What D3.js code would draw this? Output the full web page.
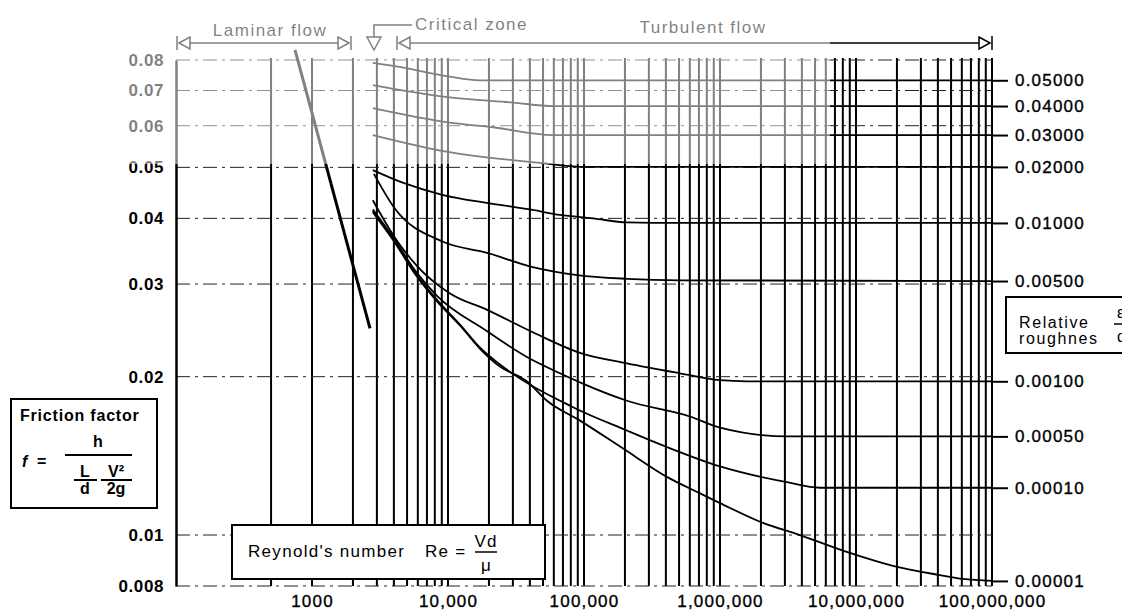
<!DOCTYPE html>
<html>
<head>
<meta charset="utf-8">
<script src="https://cdn.jsdelivr.net/npm/d3@7"></script>
<style>
body { margin: 0; background: #fff; }
svg { display: block; font-family: "Liberation Sans", Arial, sans-serif; }
</style>
</head>
<body>
<div id="chart"></div>
<script>
const w = 1131, h = 611

// data: [Reynolds number, friction factor]
const fTicks = [0.08, 0.07, 0.06, 0.05, 0.04, 0.03, 0.02, 0.01, 0.008]
const fTickLabels = ["0.08", "0.07", "0.06", "0.05", "0.04", "0.03", "0.02", "0.01", "0.008"]
const reTicks = [1e3, 1e4, 1e5, 1e6, 1e7, 1e8]
const reTickLabels = ["1000", "10,000", "100,000", "1,000,000", "10,000,000", "100,000,000"]
const roughness = ["0.05000", "0.04000", "0.03000", "0.02000", "0.01000", "0.00500", "0.00100", "0.00050", "0.00010", "0.00001"]

const laminar = [[750, 0.0836], [2670, 0.0247]]

const curve05000 = [[2800, 0.0790], [4400, 0.0776], [10000, 0.0745], [17200, 0.0732], [1e8, 0.0732]]
const curve04000 = [[2800, 0.0717], [10000, 0.0680], [30000, 0.0664], [60000, 0.0654], [1e8, 0.0654]]
const curve03000 = [[2800, 0.0648], [10000, 0.0609], [21400, 0.0596], [59000, 0.0576], [1e8, 0.0576]]
const curve02000 = [[2800, 0.0576], [10000, 0.0535], [47500, 0.0510], [105000, 0.0501], [1e8, 0.0501]]
const curve01000 = [[2800, 0.0494], [4700, 0.0467], [9200, 0.0443], [19400, 0.0428], [42000, 0.0415], [66600, 0.0406], [116000, 0.0400], [207000, 0.0393], [508000, 0.0392], [1e8, 0.0392]]
const curve00500 = [[2850, 0.0486], [4000, 0.0420], [9200, 0.0361], [19400, 0.0344], [42000, 0.0323], [89000, 0.0312], [207000, 0.0307], [508000, 0.0305], [1e8, 0.0304]]
const curve00100 = [[2800, 0.0433], [4000, 0.0370], [5900, 0.0325], [10350, 0.0288], [19400, 0.0268], [42000, 0.0243], [93500, 0.0222], [207000, 0.0212], [508000, 0.0203], [1e6, 0.0197], [1.58e6, 0.0196], [1e8, 0.0196]]
const curve00050 = [[2800, 0.0416], [4000, 0.0366], [5900, 0.0315], [8300, 0.0285], [19400, 0.0244], [38000, 0.0218], [66600, 0.0203], [98000, 0.0194], [207000, 0.0180], [601000, 0.0168], [1e6, 0.0160], [3.1e6, 0.0154], [1e8, 0.0154]]
const curve00010 = [[2800, 0.0413], [4000, 0.0364], [5900, 0.0312], [8300, 0.0280], [12300, 0.0251], [17200, 0.0227], [24100, 0.0211], [83000, 0.0175], [207000, 0.0158], [407000, 0.0147], [1e6, 0.0135], [3.1e6, 0.0126], [5.4e6, 0.0123], [1e8, 0.0123]]
const curve00001 = [[2800, 0.0411], [4000, 0.0362], [5900, 0.0310], [8300, 0.0278], [12300, 0.0250], [17200, 0.0226], [24100, 0.0209], [38000, 0.0196], [53400, 0.0180], [93500, 0.0165], [194000, 0.0146], [407000, 0.0129], [713000, 0.0120], [1e6, 0.0115], [1.97e6, 0.0106], [3.87e6, 0.0100], [9e6, 0.00925], [1.87e7, 0.00874], [4.15e7, 0.00839], [6.1e7, 0.00825], [1e8, 0.00818]]

const curves = [curve05000, curve04000, curve03000, curve02000, curve01000, curve00500, curve00100, curve00050, curve00010, curve00001]

//scales
const x = d3.scaleLog().domain([100, 1e8]).range([176, 992])
const y = d3.scaleLog().domain([0.008, 0.08]).range([586, 60])

const svg = d3.select("#chart").append("svg")
    .attr("width", w)
    .attr("height", h)

svg.append("rect").attr("width", w).attr("height", h).attr("fill", "white")

// vertical grid: 500, then every 1..9 x decade from 1000 up
const gridRe = [500]
for (let k = 3; k < 8; k++) {
    for (let m = 1; m < 10; m++) gridRe.push(m * Math.pow(10, k))
}
gridRe.push(1e8)

svg.append("g").selectAll("line")
    .data(gridRe)
    .enter()
    .append("line")
    .attr("x1", d => x(d)).attr("x2", d => x(d))
    .attr("y1", y(0.08) - 2).attr("y2", y(0.008))
    .attr("stroke", "#000")
    .attr("stroke-width", 2)

// horizontal dash-dot grid
svg.append("g").selectAll("line")
    .data(fTicks)
    .enter()
    .append("line")
    .attr("x1", x(100)).attr("x2", x(1e8))
    .attr("y1", d => y(d)).attr("y2", d => y(d))
    .attr("stroke", "#222")
    .attr("stroke-width", 1)
    .attr("stroke-dasharray", "14,5,3,5")

// roughness curves
const line = d3.line()
    .x(d => x(d[0]))
    .y(d => y(d[1]))
    .curve(d3.curveMonotoneX)

svg.append("g").selectAll("path")
    .data(curves)
    .enter()
    .append("path")
    .attr("d", line)
    .attr("fill", "none")
    .attr("stroke", "#000")
    .attr("stroke-width", 1.8)

// laminar line
svg.append("path")
    .attr("d", line(laminar))
    .attr("fill", "none")
    .attr("stroke", "#000")
    .attr("stroke-width", 3)

// left axis
const yAxis = svg.append("g")
    .attr("transform", "translate(" + x(100) + ",0)")
    .call(d3.axisLeft(y).tickValues(fTicks).tickSize(0).tickPadding(12)
        .tickFormat((d, i) => fTickLabels[i]))
yAxis.select(".domain").attr("stroke-width", 2.5)
yAxis.selectAll("text")
    .attr("font-family", "'Liberation Sans', Arial, sans-serif")
    .attr("font-size", 17)
    .attr("font-weight", "bold")
    .attr("letter-spacing", 0.6)
    .attr("fill", "#000")

// bottom labels
const xAxis = svg.append("g")
    .attr("transform", "translate(0," + y(0.008) + ")")
    .call(d3.axisBottom(x).tickValues(reTicks).tickSize(0).tickPadding(9)
        .tickFormat((d, i) => reTickLabels[i]))
xAxis.select(".domain").remove()
xAxis.selectAll("text")
    .attr("font-family", "'Liberation Sans', Arial, sans-serif")
    .attr("font-size", 17)
    .attr("letter-spacing", 1.2)
    .attr("fill", "#000")
    .attr("stroke", "#000")
    .attr("stroke-width", 0.35)

// right roughness ticks
const rAxis = svg.append("g")
    .attr("transform", "translate(" + x(1e8) + ",0)")
    .call(d3.axisRight(y).tickValues(curves.map(c => c[c.length - 1][1]))
        .tickSize(16).tickPadding(7)
        .tickFormat((d, i) => roughness[i]))
rAxis.select(".domain").remove()
rAxis.selectAll("line").attr("stroke-width", 2)
rAxis.selectAll("text")
    .attr("font-family", "'Liberation Sans', Arial, sans-serif")
    .attr("font-size", 17)
    .attr("letter-spacing", 1.2)
    .attr("fill", "#000")
    .attr("stroke", "#000")
    .attr("stroke-width", 0.35)

// friction factor box
const fb = svg.append("g").attr("font-weight", "bold").attr("font-size", 16)
fb.append("rect").attr("x", 11).attr("y", 399).attr("width", 146).attr("height", 109)
    .attr("fill", "white").attr("stroke", "#000").attr("stroke-width", 2)
fb.append("text").attr("x", 20).attr("y", 421).attr("letter-spacing", 0.8).text("Friction factor")
fb.append("text").attr("x", 22).attr("y", 467).attr("font-style", "italic").text("f")
fb.append("text").attr("x", 37).attr("y", 467).text("=")
fb.append("line").attr("x1", 65).attr("x2", 132).attr("y1", 455).attr("y2", 455).attr("stroke", "#000").attr("stroke-width", 2)
fb.append("text").attr("x", 98).attr("y", 447).attr("text-anchor", "middle").text("h")
fb.append("text").attr("x", 85).attr("y", 477).attr("text-anchor", "middle").text("L")
fb.append("line").attr("x1", 74).attr("x2", 97).attr("y1", 480).attr("y2", 480).attr("stroke", "#000").attr("stroke-width", 2)
fb.append("text").attr("x", 85).attr("y", 494).attr("text-anchor", "middle").text("d")
fb.append("text").attr("x", 116).attr("y", 477).attr("text-anchor", "middle").text("V²")
fb.append("line").attr("x1", 101).attr("x2", 132).attr("y1", 480).attr("y2", 480).attr("stroke", "#000").attr("stroke-width", 2)
fb.append("text").attr("x", 116).attr("y", 494).attr("text-anchor", "middle").text("2g")

// reynolds box
const rb = svg.append("g").attr("font-size", 17)
rb.append("rect").attr("x", 232).attr("y", 525).attr("width", 313).attr("height", 54)
    .attr("fill", "white").attr("stroke", "#000").attr("stroke-width", 2)
rb.append("text").attr("x", 248).attr("y", 557).attr("letter-spacing", 1.3).text("Reynold's number")
rb.append("text").attr("x", 425).attr("y", 557).attr("letter-spacing", 1.3).text("Re =")
rb.append("text").attr("x", 486).attr("y", 547).attr("text-anchor", "middle").attr("letter-spacing", 1).text("Vd")
rb.append("line").attr("x1", 475).attr("x2", 497).attr("y1", 552).attr("y2", 552).attr("stroke", "#000").attr("stroke-width", 1.5)
rb.append("text").attr("x", 486).attr("y", 571).attr("text-anchor", "middle").text("μ")

// relative roughness box, cut off at the right edge of the scan
svg.append("clipPath").attr("id", "kclip")
    .append("rect").attr("x", 0).attr("y", 0).attr("width", 1122).attr("height", h)
const kb = svg.append("g").attr("font-size", 16).attr("clip-path", "url(#kclip)")
kb.append("rect").attr("x", 1006).attr("y", 297).attr("width", 160).attr("height", 56)
    .attr("fill", "white").attr("stroke", "#000").attr("stroke-width", 2)
kb.append("text").attr("x", 1019).attr("y", 328).attr("letter-spacing", 1.6).text("Relative")
kb.append("text").attr("x", 1019).attr("y", 344).attr("letter-spacing", 1.6).text("roughnes")
kb.append("text").attr("x", 1117).attr("y", 318).text("ɛ")
kb.append("line").attr("x1", 1114).attr("x2", 1140).attr("y1", 324).attr("y2", 324).attr("stroke", "#000").attr("stroke-width", 1.5)
kb.append("text").attr("x", 1117).attr("y", 342).text("d")

// flow regime markers at the top
const marks = svg.append("g").attr("stroke", "#000").attr("stroke-width", 1.5).attr("fill", "none")
const arrowY = 43
function leftStop(xs) {
    marks.append("line").attr("x1", xs).attr("x2", xs).attr("y1", arrowY - 7).attr("y2", arrowY + 7)
    marks.append("path").attr("d", "M" + (xs + 2) + "," + arrowY + "L" + (xs + 13) + "," + (arrowY - 6) + "L" + (xs + 13) + "," + (arrowY + 6) + "Z")
}
function rightStop(xs) {
    marks.append("line").attr("x1", xs).attr("x2", xs).attr("y1", arrowY - 7).attr("y2", arrowY + 7)
    marks.append("path").attr("d", "M" + (xs - 2) + "," + arrowY + "L" + (xs - 13) + "," + (arrowY - 6) + "L" + (xs - 13) + "," + (arrowY + 6) + "Z")
}
leftStop(x(100) + 1)
marks.append("line").attr("x1", x(100) + 14).attr("x2", 338).attr("y1", arrowY).attr("y2", arrowY)
rightStop(351)
marks.append("path").attr("d", "M367,37L381,37L374,50Z")
marks.append("path").attr("d", "M374,37L374,25L412,25")
leftStop(397)
marks.append("line").attr("x1", 410).attr("x2", 979).attr("y1", arrowY).attr("y2", arrowY)
rightStop(x(1e8))

const tl = svg.append("g").attr("font-size", 17).attr("letter-spacing", 1.5).attr("fill", "#000")
tl.append("text").attr("x", 270).attr("y", 36).attr("text-anchor", "middle").text("Laminar flow")
tl.append("text").attr("x", 415).attr("y", 30).text("Critical zone")
tl.append("text").attr("x", 703).attr("y", 33).attr("text-anchor", "middle").text("Turbulent flow")

// washed-out upper left of the scan
svg.append("rect").attr("x", 0).attr("y", 0).attr("width", 830).attr("height", 164)
    .attr("fill", "white").attr("opacity", 0.5)
</script>
</body>
</html>
